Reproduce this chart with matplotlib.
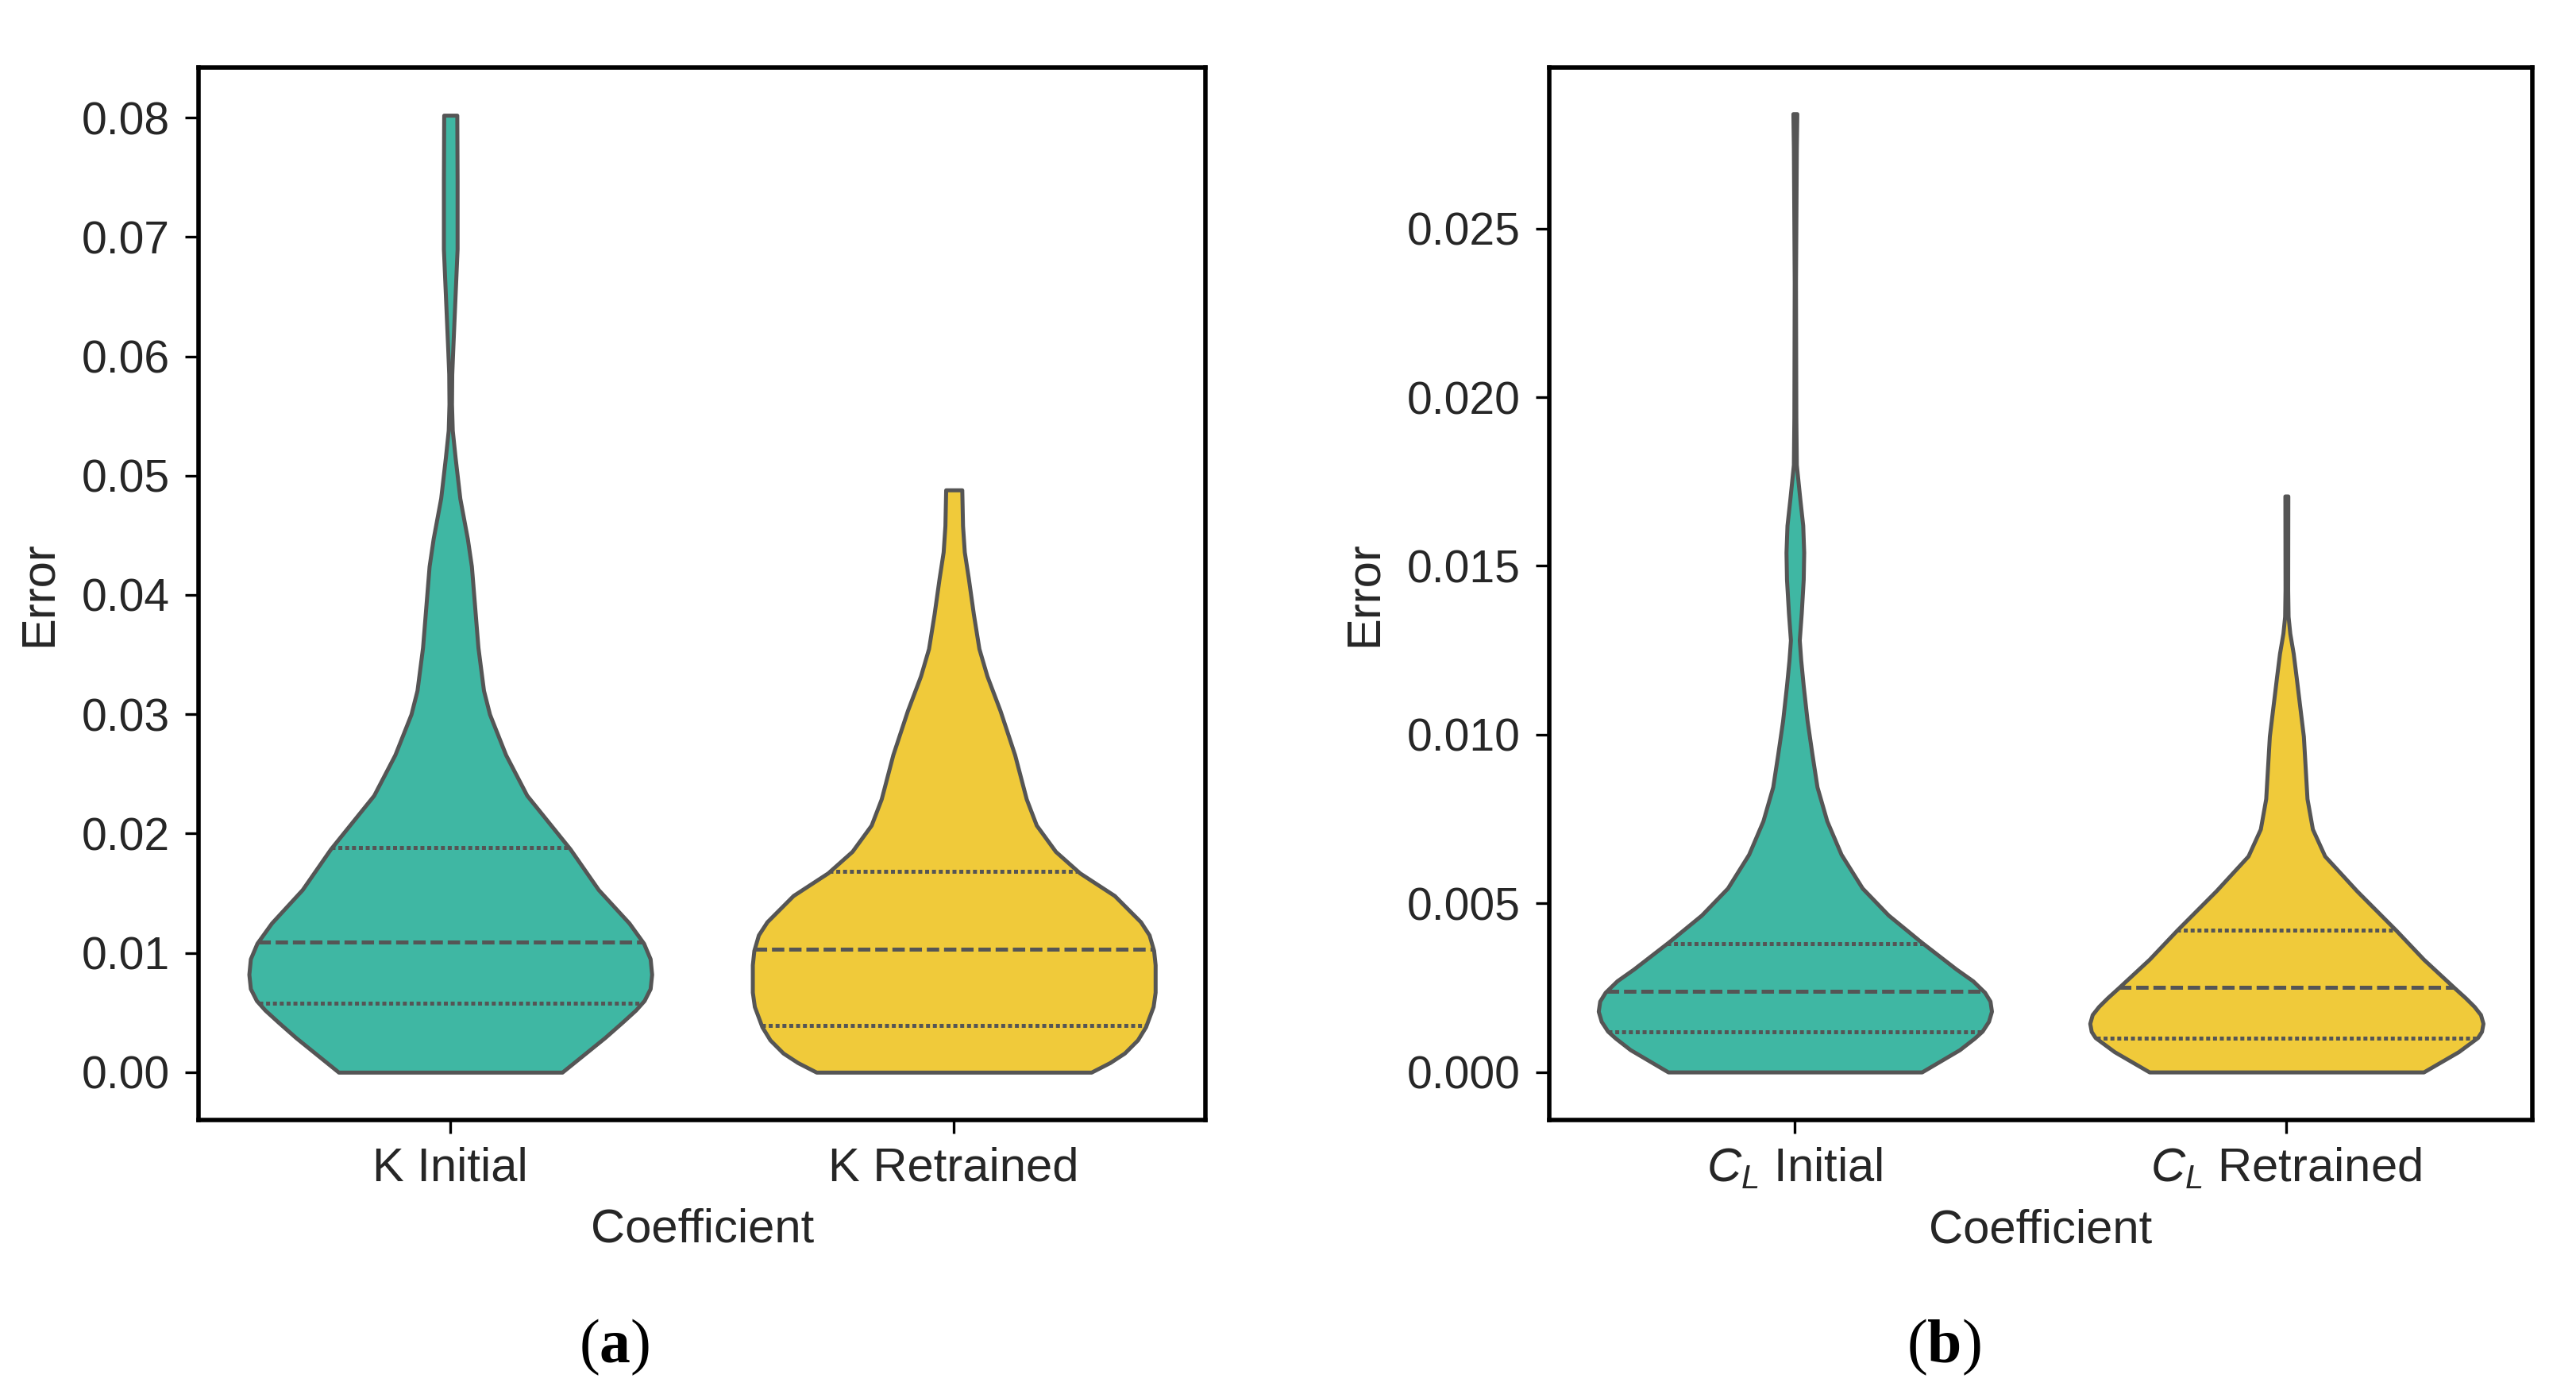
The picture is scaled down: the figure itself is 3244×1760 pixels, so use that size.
import numpy as np
import matplotlib.pyplot as plt

plt.rcParams['font.family'] = ['Liberation Sans', 'DejaVu Sans']
plt.rcParams['mathtext.fontset'] = 'custom'
plt.rcParams['mathtext.rm'] = 'Liberation Serif'
plt.rcParams['mathtext.it'] = 'Liberation Sans:italic'
plt.rcParams['mathtext.bf'] = 'Liberation Serif:bold'
plt.rcParams['lines.scale_dashes'] = False

# violin outlines: error level -> half width (category units)
k_init_y = [0.0, 0.0029, 0.0042, 0.0052, 0.0060, 0.0070, 0.0082, 0.0095, 0.0108, 0.0125,
            0.0153, 0.0187, 0.0232, 0.0266, 0.0300, 0.0320, 0.0356, 0.0390, 0.0424, 0.0447,
            0.0481, 0.0515, 0.0538, 0.0560, 0.0585, 0.0606, 0.0652, 0.0690, 0.0747, 0.0802]
k_init_w = [0.222, 0.307, 0.342, 0.368, 0.385, 0.397, 0.400, 0.397, 0.384, 0.355,
            0.294, 0.238, 0.152, 0.110, 0.078, 0.066, 0.055, 0.0485, 0.042, 0.034,
            0.019, 0.0097, 0.004, 0.0025, 0.003, 0.005, 0.0097, 0.0136, 0.0136, 0.013]

k_retr_y = [0.0, 0.0008, 0.0016, 0.0027, 0.0038, 0.0055, 0.0067, 0.0090, 0.0102, 0.0115,
            0.0126, 0.0148, 0.0167, 0.0185, 0.0207, 0.0229, 0.0266, 0.0303, 0.0332, 0.0355,
            0.0384, 0.0414, 0.0436, 0.0458, 0.0488]
k_retr_w = [0.273, 0.310, 0.339, 0.365, 0.381, 0.396, 0.400, 0.400, 0.397, 0.388,
            0.371, 0.319, 0.250, 0.202, 0.164, 0.144, 0.121, 0.092, 0.066, 0.050,
            0.039, 0.029, 0.021, 0.0175, 0.016]

cl_init_y = [0.0, 0.00066, 0.00100, 0.00121, 0.00150, 0.0018, 0.00210, 0.00236, 0.00270, 0.00305,
             0.00385, 0.00465, 0.00545, 0.00645, 0.00744, 0.00845, 0.0094, 0.0104, 0.01145, 0.0122,
             0.0128, 0.0136, 0.0146, 0.0154, 0.0162, 0.0170, 0.0180, 0.0194, 0.0234, 0.0274, 0.0284]
cl_init_w = [0.258, 0.335, 0.365, 0.381, 0.394, 0.400, 0.397, 0.386, 0.362, 0.328,
             0.257, 0.190, 0.137, 0.094, 0.065, 0.045, 0.035, 0.025, 0.017, 0.012,
             0.009, 0.013, 0.017, 0.018, 0.016, 0.010, 0.003, 0.002, 0.0013, 0.003, 0.004]

cl_retr_y = [0.0, 0.0006, 0.00102, 0.00120, 0.00144, 0.00170, 0.00194, 0.00220, 0.00249, 0.00334,
             0.0042, 0.00537, 0.0064, 0.0072, 0.0081, 0.00995, 0.0117, 0.0124, 0.0130, 0.0135,
             0.0143, 0.01707]
cl_retr_w = [0.279, 0.350, 0.389, 0.397, 0.400, 0.395, 0.382, 0.364, 0.342, 0.279,
             0.223, 0.143, 0.078, 0.053, 0.042, 0.0346, 0.020, 0.014, 0.007, 0.0035,
             0.0027, 0.003]

# quartiles (Q1, median, Q3)
k_init_q = [0.0058, 0.0109, 0.0188]
k_retr_q = [0.0039, 0.0103, 0.0168]
cl_init_q = [0.0012, 0.0024, 0.0038]
cl_retr_q = [0.0010, 0.0025, 0.0042]

k_labels = ['K Initial', 'K Retrained']
cl_labels = ['$C_L$ Initial', '$C_L$ Retrained']
k_ticks = [0.00, 0.01, 0.02, 0.03, 0.04, 0.05, 0.06, 0.07, 0.08]
cl_ticks = [0.000, 0.005, 0.010, 0.015, 0.020, 0.025]

teal = '#3FB7A3'
yellow = '#F0CA3A'
edge = '#555555'
txt = '#262626'


def draw_violin(ax, pos, ys, ws, color, quarts):
    ys = np.array(ys)
    ws = np.array(ws)
    ax.fill_betweenx(ys, pos - ws, pos + ws, facecolor=color, edgecolor=edge,
                     linewidth=1.8, zorder=2)
    for q, dash in zip(quarts, [(1.8, 1.3), (5.6, 2.2), (1.8, 1.3)]):
        w = np.interp(q, ys, ws)
        ax.plot([pos - w, pos + w], [q, q], color=edge, dashes=dash, lw=1.8, zorder=3)


def style_axes(ax, labels, ticks, fmt, ylim):
    ax.set_xlim(-0.5, 1.5)
    ax.set_ylim(*ylim)
    ax.set_xticks([0, 1])
    ax.set_xticklabels(labels, fontsize=21.5, color=txt)
    ax.set_yticks(ticks)
    ax.set_yticklabels([fmt % t for t in ticks], fontsize=20.5, color=txt)
    ax.tick_params(axis='both', length=6, width=1.2, color='black', pad=7)
    ax.tick_params(axis='x', pad=6)
    for s in ax.spines.values():
        s.set_linewidth(2.0)
        s.set_color('black')
        s.set_zorder(5)
    ax.set_xlabel('Coefficient', fontsize=21.5, color=txt, labelpad=8)
    ax.set_ylabel('Error', fontsize=21.5, color=txt, labelpad=9.5)


fig = plt.figure(figsize=(16.22, 8.8), dpi=200)
ax1 = fig.add_axes([0.0771, 0.1989, 0.3909, 0.7528])
ax2 = fig.add_axes([0.6014, 0.1989, 0.3816, 0.7528])

draw_violin(ax1, 0, k_init_y, k_init_w, teal, k_init_q)
draw_violin(ax1, 1, k_retr_y, k_retr_w, yellow, k_retr_q)
style_axes(ax1, k_labels, k_ticks, '%.2f', (-0.004, 0.0842))

draw_violin(ax2, 0, cl_init_y, cl_init_w, teal, cl_init_q)
draw_violin(ax2, 1, cl_retr_y, cl_retr_w, yellow, cl_retr_q)
style_axes(ax2, cl_labels, cl_ticks, '%.3f', (-0.00142, 0.02977))

fig.text(0.2385, 0.036, r'$(\mathbf{a})$', fontsize=28, ha='center', va='center', color='black')
fig.text(0.7545, 0.036, r'$(\mathbf{b})$', fontsize=28, ha='center', va='center', color='black')

fig.savefig('out.png', dpi=200)
